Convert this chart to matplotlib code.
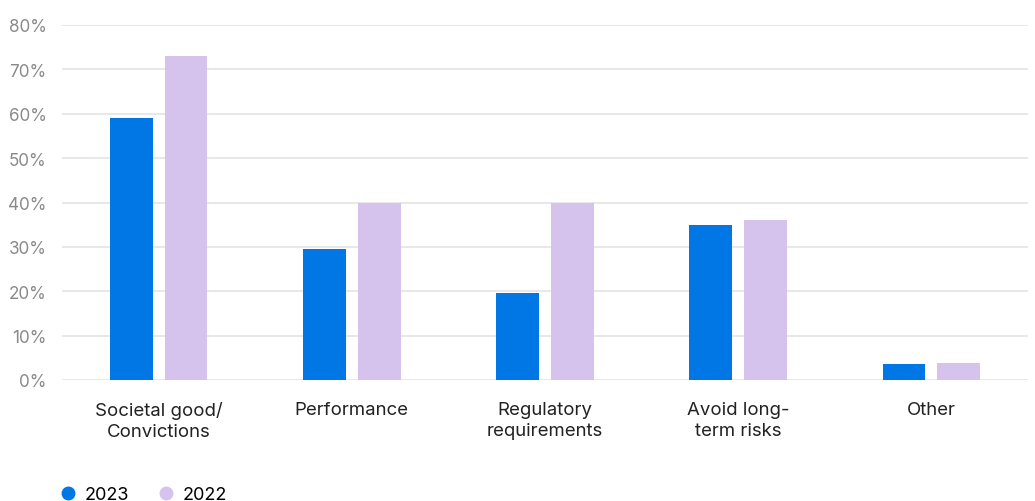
import matplotlib

matplotlib.use("Agg")
import matplotlib.pyplot as plt
import numpy as np
from matplotlib.lines import Line2D

plt.rcParams["font.family"] = ["Inter", "DejaVu Sans"]

categories = ["Societal good/\nConvictions", "Performance", "Regulatory\nrequirements",
              "Avoid long-\nterm risks", "Other"]
series_names = ["2023", "2022"]
values_2023 = [59, 29.5, 19.6, 35, 3.7]
values_2022 = [73, 40, 40, 36, 3.8]
y_ticks = [0, 10, 20, 30, 40, 50, 60, 70, 80]

BLUE = "#0077e4"
LILAC = "#d5c3ee"
GRID = "#e6e6e8"

fig = plt.figure(figsize=(10.35, 5.02), dpi=100)
ax = fig.add_axes([62 / 1035, 121 / 502, 966 / 1035, 355 / 502])

x = np.arange(len(categories))
width = 0.222
offset = 0.142
ax.bar(x - offset, values_2023, width, color=BLUE, zorder=3)
ax.bar(x + offset, values_2022, width, color=LILAC, zorder=3)

ax.set_xlim(-0.5, len(categories) - 0.5)
ax.set_ylim(0, 80)
ax.set_yticks(y_ticks)
ax.set_yticklabels([f"{t}%" for t in y_ticks])
ax.yaxis.grid(True, color=GRID, linewidth=1.3, zorder=0)
ax.set_axisbelow(True)
for s in ax.spines.values():
    s.set_visible(False)
ax.tick_params(axis="y", length=0, pad=11, labelsize=12.3, labelcolor="#8a8a8a")
ax.tick_params(axis="x", length=0, pad=15, labelsize=13.4, labelcolor="#222222")
ax.set_xticks(x)
ax.set_xticklabels(categories, linespacing=1.3)

handles = [Line2D([], [], marker="o", linestyle="none", markersize=9,
                  markerfacecolor=c, markeredgecolor=c)
           for c in (BLUE, LILAC)]
fig.legend(handles, series_names, loc="lower left", bbox_to_anchor=(0.04, -0.036),
           ncol=2, frameon=False, fontsize=13, handletextpad=0.3,
           columnspacing=1.45, handlelength=1.2)

fig.savefig("out.png", dpi=100)
plt.close(fig)
